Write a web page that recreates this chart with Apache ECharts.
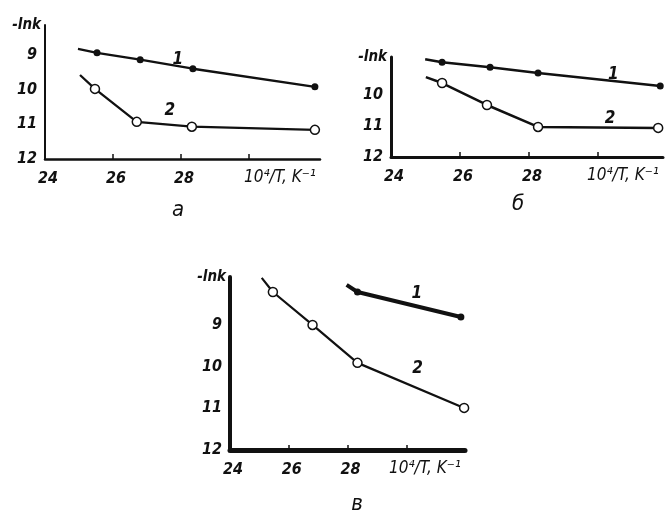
<!DOCTYPE html>
<html>
<head>
<meta charset="utf-8">
<script src="https://cdn.jsdelivr.net/npm/echarts@6/dist/echarts.min.js"></script>
<style>
  html, body { margin: 0; padding: 0; background: #fff; }
  #chart { width: 666px; height: 518px; }
</style>
</head>
<body>
<div id="chart"></div>
<script>
// x = 10^4/T, y = -ln k ; first point of each line is the bare line start (no marker)
const xLabelValues = [24, 26, 28];
const xTickValues = [26, 28, 30];

const a1X = [24.97, 25.53, 26.8, 28.35, 31.94];
const a1Y = [8.83, 8.94, 9.14, 9.4, 9.92];
const a2X = [25.03, 25.47, 26.7, 28.32, 31.94];
const a2Y = [9.58, 9.98, 10.93, 11.07, 11.16];

const b1X = [24.99, 25.48, 26.87, 28.26, 31.8];
const b1Y = [8.84, 8.94, 9.1, 9.29, 9.71];
const b2X = [25.01, 25.48, 26.78, 28.26, 31.74];
const b2Y = [9.42, 9.61, 10.32, 11.03, 11.06];

const c1X = [27.97, 28.34, 31.86];
const c1Y = [8.04, 8.21, 8.81];
const c2X = [25.08, 25.46, 26.81, 28.34, 31.97];
const c2Y = [7.87, 8.21, 9.0, 9.91, 10.99];

const panelNames = ["а", "б", "в"];
const yLabelsA = [9, 10, 11, 12];
const yLabelsB = [10, 11, 12];
const yLabelsC = [9, 10, 11, 12];

const font = "'DejaVu Sans Condensed', 'Liberation Sans Narrow', 'Liberation Sans', sans-serif";

const chart = echarts.init(document.getElementById("chart"));

function pairs(xs, ys) {
  return xs.map((x, i) => {
    const item = { value: [x, ys[i]] };
    if (i === 0) item.symbol = "none";
    return item;
  });
}

function withLabel(data, idx, text, offset) {
  data[idx].label = {
    show: true,
    formatter: text,
    position: "top",
    offset: offset,
    fontFamily: font,
    fontStyle: "italic",
    fontWeight: "bold",
    fontSize: 17,
    color: "#111",
  };
  return data;
}

function xAxisFor(gi, max, lw) {
  return {
    type: "value",
    gridIndex: gi,
    min: 24,
    max: max,
    axisLine: { show: true, lineStyle: { color: "#111", width: lw } },
    axisTick: {
      show: true,
      inside: true,
      length: 5,
      customValues: xTickValues,
      lineStyle: { color: "#111", width: 1.5 },
    },
    axisLabel: {
      customValues: xLabelValues,
      color: "#111",
      fontFamily: font,
      fontStyle: "italic",
      fontWeight: "bold",
      fontSize: 16,
      margin: 12,
      padding: [0, 0, 0, 6],
    },
    splitLine: { show: false },
    name: "10⁴/T, K⁻¹",
    nameLocation: "end",
    nameGap: 0,
    nameTextStyle: {
      align: "right",
      verticalAlign: "top",
      padding: [10, 4, 0, 0],
      color: "#111",
      fontFamily: font,
      fontStyle: "italic",
      fontSize: 17,
    },
  };
}

function yAxisFor(gi, min, labels, lw) {
  return {
    type: "value",
    gridIndex: gi,
    inverse: true,
    min: min,
    max: 12,
    axisLine: { show: true, lineStyle: { color: "#111", width: lw } },
    axisTick: { show: false },
    axisLabel: {
      customValues: labels,
      color: "#111",
      fontFamily: font,
      fontStyle: "italic",
      fontWeight: "bold",
      fontSize: 16,
      margin: 8,
    },
    splitLine: { show: false },
    name: "-lnk",
    nameLocation: "start",
    nameGap: 0,
    nameTextStyle: {
      align: "right",
      verticalAlign: "middle",
      padding: [0, 4, 0, 0],
      color: "#111",
      fontFamily: font,
      fontStyle: "italic",
      fontWeight: "bold",
      fontSize: 15,
    },
  };
}

function filled(gi, data, w) {
  return {
    type: "line",
    xAxisIndex: gi,
    yAxisIndex: gi,
    data: data,
    symbol: "circle",
    symbolSize: 7,
    itemStyle: { color: "#111" },
    lineStyle: { color: "#111", width: w },
    animation: false,
  };
}

function hollow(gi, data, w) {
  return {
    type: "line",
    xAxisIndex: gi,
    yAxisIndex: gi,
    data: data,
    symbol: "circle",
    symbolSize: 9,
    itemStyle: { color: "#fff", borderColor: "#111", borderWidth: 1.5 },
    lineStyle: { color: "#111", width: w },
    animation: false,
  };
}

const captionStyle = {
  fontFamily: font,
  fontStyle: "italic",
  fontWeight: "normal",
  fontSize: 22,
  color: "#111",
};

const options = {
  backgroundColor: "#fff",
  title: [
    { text: panelNames[0], left: 173, top: 194, textAlign: "center", textStyle: captionStyle },
    { text: panelNames[1], left: 513, top: 188, textAlign: "center", textStyle: captionStyle },
    { text: panelNames[2], left: 352, top: 488, textAlign: "center", textStyle: captionStyle },
  ],
  grid: [
    { left: 45, top: 25, width: 275, height: 134 },
    { left: 391, top: 57, width: 272, height: 100 },
    { left: 230, top: 277, width: 235, height: 173 },
  ],
  xAxis: [xAxisFor(0, 32.09, 2.5), xAxisFor(1, 31.88, 3), xAxisFor(2, 32, 5)],
  yAxis: [yAxisFor(0, 8.14, yLabelsA, 2), yAxisFor(1, 8.77, yLabelsB, 3), yAxisFor(2, 7.85, yLabelsC, 4)],
  series: [
    filled(0, withLabel(pairs(a1X, a1Y), 3, "1", [-15, 8]), 2.3),
    hollow(0, withLabel(pairs(a2X, a2Y), 2, "2", [33, 7]), 2.3),
    filled(1, withLabel(pairs(b1X, b1Y), 4, "1", [-47, 5]), 2.5),
    hollow(1, withLabel(pairs(b2X, b2Y), 4, "2", [-48, 9]), 2.5),
    filled(2, withLabel(pairs(c1X, c1Y), 2, "1", [-44, -6]), 4),
    hollow(2, withLabel(pairs(c2X, c2Y), 3, "2", [60, 24]), 2.2),
  ],
};

chart.setOption(options);
</script>
</body>
</html>
